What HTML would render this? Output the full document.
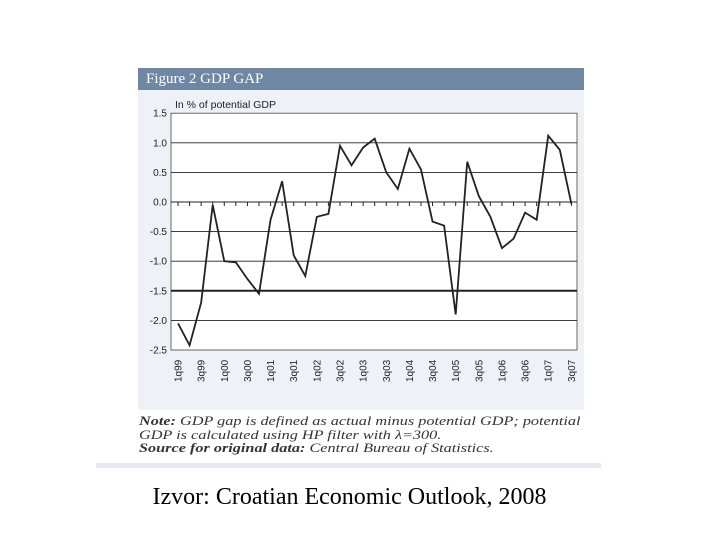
<!DOCTYPE html>
<html><head><meta charset="utf-8"><style>
body{margin:0;width:720px;height:540px;background:#fff;position:relative;overflow:hidden;font-family:"Liberation Sans",sans-serif}
</style></head><body>
<div style="position:absolute;left:138px;top:68px;width:446px;height:342px;background:#eef1f6"></div>
<div style="position:absolute;left:138px;top:68px;width:446px;height:22px;background:#6e87a4;color:#fff;font-family:'Liberation Serif',serif;font-size:15px;line-height:22px;padding-left:8px;box-sizing:border-box">Figure 2 GDP GAP</div>
<svg width="720" height="540" style="position:absolute;left:0;top:0">
<g id="grid"></g><g id="yl"></g><g id="xl"></g>
<path id="line" fill="none" stroke="#222" stroke-width="1.8"/>
<text x="175" y="108" font-size="10.5" fill="#222">In % of potential GDP</text>
</svg>
<div style="position:absolute;left:139px;top:415px;white-space:nowrap;font-family:'Liberation Serif',serif;font-style:italic;font-size:12.4px;line-height:13.5px;color:#333;transform:scaleX(1.31);transform-origin:0 0"><b>Note:</b> GDP gap is defined as actual minus potential GDP; potential<br>GDP is calculated using HP filter with λ=300.<br><b>Source for original data:</b> Central Bureau of Statistics.</div>
<div style="position:absolute;left:96px;top:463px;width:505px;height:5px;background:#e6e9ef"></div>
<div style="position:absolute;left:0;top:484px;width:699px;text-align:center;font-family:'Liberation Serif',serif;font-size:24px;color:#000">Izvor: Croatian Economic Outlook, 2008</div>
<script>
const quarters=["1q99","2q99","3q99","4q99","1q00","2q00","3q00","4q00","1q01","2q01","3q01","4q01","1q02","2q02","3q02","4q02","1q03","2q03","3q03","4q03","1q04","2q04","3q04","4q04","1q05","2q05","3q05","4q05","1q06","2q06","3q06","4q06","1q07","2q07","3q07"];
const gap=[-2.05,-2.42,-1.7,-0.05,-1.0,-1.02,-1.3,-1.55,-0.3,0.35,-0.9,-1.25,-0.25,-0.2,0.95,0.62,0.92,1.07,0.5,0.22,0.9,0.55,-0.33,-0.4,-1.9,0.68,0.1,-0.25,-0.78,-0.62,-0.18,-0.3,1.12,0.88,-0.03];
const yTicks=[1.5,1.0,0.5,0.0,-0.5,-1.0,-1.5,-2.0,-2.5];
const yLabels=["1.5","1.0","0.5","0.0","-0.5","-1.0","-1.5","-2.0","-2.5"];
const X0=178,DX=11.57,L=171,R=577;
const x=i=>X0+DX*i, y=v=>202-v*59.2;
const ns="http://www.w3.org/2000/svg";
function mk(t,a,p){const e=document.createElementNS(ns,t);for(const k in a)e.setAttribute(k,a[k]);p.appendChild(e);return e;}
const g=document.getElementById('grid'),yl=document.getElementById('yl'),xl=document.getElementById('xl');
mk('rect',{x:L,y:y(1.5),width:R-L,height:y(-2.5)-y(1.5),fill:'#fff',stroke:'#444','stroke-width':0.8},g);
yTicks.forEach((v,k)=>{
 if(v<1.5&&v>-2.5){const ln=mk('line',{x1:L,x2:R,y1:y(v),y2:y(v),stroke:'#222','stroke-width':v==-1.5?2:0.9},g);
 
 }
 const t=mk('text',{x:167,y:y(v)+3.5,'text-anchor':'end','font-size':10,fill:'#222'},yl);
 t.textContent=yLabels[k];
 
 
});
quarters.forEach((q,i)=>{
 mk('line',{x1:x(i),x2:x(i),y1:y(0),y2:y(0)+4,stroke:'#222','stroke-width':1},g);
 if(i%2==0){const t=mk('text',{transform:`translate(${x(i)+3.5},382) rotate(-90)`,'font-size':10,fill:'#222'},xl);
 t.textContent=q;
 
 }
});
document.getElementById('line').setAttribute('d',gap.map((v,i)=>(i?'L':'M')+x(i)+','+y(v)).join(''));
</script>
</body></html>
